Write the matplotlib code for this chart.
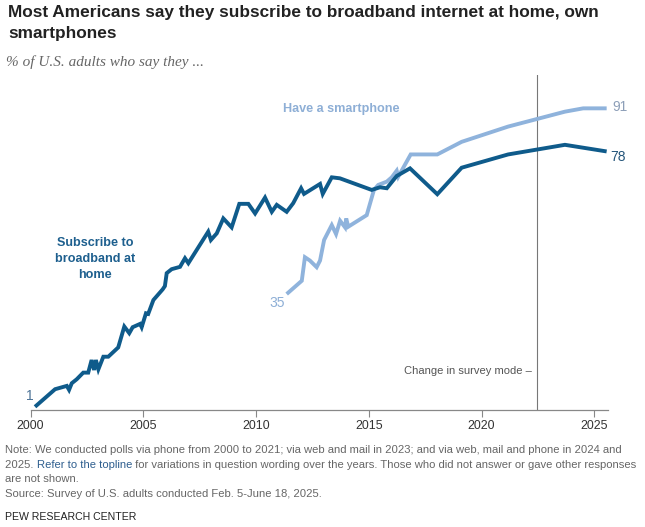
import matplotlib
matplotlib.use("Agg")
import matplotlib.pyplot as plt

# ---- data ----
broadband_years = [2000.20, 2001.09, 2001.61, 2001.71, 2001.83, 2002.05, 2002.34, 2002.56,
                   2002.71, 2002.82, 2002.90, 2003.01, 2003.23, 2003.45, 2003.89, 2004.16,
                   2004.38, 2004.53, 2004.86, 2004.93, 2005.12, 2005.22, 2005.45, 2005.86,
                   2005.96, 2006.04, 2006.26, 2006.63, 2006.85, 2007.00, 2007.88, 2008.00,
                   2008.26, 2008.55, 2008.92, 2009.26, 2009.66, 2009.96, 2010.40, 2010.70,
                   2010.92, 2011.36, 2011.65, 2012.00, 2012.13, 2012.84, 2012.96, 2013.36,
                   2013.72, 2015.13, 2015.50, 2015.80, 2016.24, 2016.83, 2018.04, 2019.12,
                   2021.18, 2023.70, 2025.55]
broadband_values = [1, 6.3, 7.3, 6.1, 8.1, 9.3, 11.3, 11.3,
                    15.1, 12.1, 15.1, 12.3, 16.1, 16.1, 18.9, 25.2,
                    23.2, 25.0, 26.0, 25.0, 29.2, 29.0, 33.2, 36.4,
                    37.4, 41.3, 42.5, 43.2, 45.8, 44.3, 53.8, 51.3,
                    53.3, 57.8, 55.1, 62.2, 62.2, 59.3, 64.1, 59.8,
                    61.9, 59.8, 62.4, 66.9, 65.2, 68.2, 65.2, 70.2,
                    69.9, 66.4, 67.2, 66.9, 70.6, 72.9, 65.1, 73.1,
                    77.1, 80.0, 78]

smartphone_years = [2011.36, 2012.03, 2012.17, 2012.39, 2012.69, 2012.84, 2013.02, 2013.36,
                    2013.55, 2013.73, 2013.95, 2014.00, 2014.09, 2014.91, 2015.23, 2015.42,
                    2015.80, 2016.02, 2016.24, 2016.31, 2016.86, 2018.04, 2019.12, 2021.18,
                    2023.70, 2024.51, 2025.55]
smartphone_values = [35, 39.0, 46.1, 45.1, 43.1, 45.1, 51.3, 55.8,
                     53.1, 57.1, 55.1, 57.8, 55.3, 58.8, 66.4, 67.9,
                     68.9, 70.2, 72.2, 70.4, 77.1, 77.1, 80.9, 85.5,
                     90.0, 91, 91]

year_ticks = [2000, 2005, 2010, 2015, 2020, 2025]
mode_change_year = 2022.47

title_line1 = "Most Americans say they subscribe to broadband internet at home, own"
title_line2 = "smartphones"
subtitle_text = "% of U.S. adults who say they ..."
note_line1 = "Note: We conducted polls via phone from 2000 to 2021; via web and mail in 2023; and via web, mail and phone in 2024 and"
note_line2a = "2025. "
note_line2b = "Refer to the topline"
note_line2c = " for variations in question wording over the years. Those who did not answer or gave other responses"
note_line3 = "are not shown."
source_text = "Source: Survey of U.S. adults conducted Feb. 5-June 18, 2025."
credit_text = "PEW RESEARCH CENTER"

# ---- style ----
DARK = "#0f5b8b"
LIGHT = "#8fb3dc"
GRAY = "#666666"
plt.rcParams['font.family'] = ['Liberation Sans', 'DejaVu Sans']

W, H = 645, 527
fig = plt.figure(figsize=(W / 100, H / 100), dpi=100)

x0_px, px_per_year = 30.5, 22.55
y0_px, px_per_pct = 410.1, 3.316
xmin, xmax = 2000, 2025.6
ymin, ymax = 0, 101
left = x0_px / W
width = (xmax - xmin) * px_per_year / W
bottom = 1 - y0_px / H
height = (ymax - ymin) * px_per_pct / H
ax = fig.add_axes([left, bottom, width, height])
ax.set_xlim(xmin, xmax)
ax.set_ylim(ymin, ymax)

ax.plot(broadband_years, broadband_values, color=DARK, lw=2.8, solid_joinstyle='miter',
        solid_capstyle='butt', zorder=3)
ax.plot(smartphone_years, smartphone_values, color=LIGHT, lw=2.8, solid_joinstyle='miter',
        solid_capstyle='butt', zorder=2)

ax.axvline(mode_change_year, color="#777777", lw=0.8, zorder=1)
ax.text(mode_change_year - 0.25, 11.9, "Change in survey mode \u2013", ha='right', va='center',
        fontsize=8.0, color="#555555")

for s in ['top', 'right', 'left']:
    ax.spines[s].set_visible(False)
ax.spines['bottom'].set_color("#888888")
ax.spines['bottom'].set_linewidth(0.9)
ax.set_yticks([])
ax.set_xticks(year_ticks)
ax.set_xticklabels([str(y) for y in year_ticks])
ax.tick_params(axis='x', length=5, width=0.8, color="#888888", labelsize=8.9,
               labelcolor="#333333", pad=2)

# series labels
ax.text(2002.86, 45.6, "Subscribe to\nbroadband at\nhome", ha='center', va='center',
        fontsize=9.1, fontweight='bold', color="#1d5f8e", linespacing=1.45)
ax.text(2013.8, 90.7, "Have a smartphone", ha='center', va='center',
        fontsize=9.1, fontweight='bold', color="#8eafd6")

ax.text(1999.95, 4.2, "1", ha='center', va='center', fontsize=10,
        color="#4d7397")
ax.text(smartphone_years[0] - 0.4, 32.2, "35", ha='center', va='center', fontsize=10,
        color="#8eafd6")
ax.text(smartphone_years[-1] + 0.25, 91.3, "91", ha='left', va='center', fontsize=10,
        color="#8d9fb8")
ax.text(broadband_years[-1] + 0.15, 76.4, "78", ha='left', va='center', fontsize=10,
        color="#24557a")

# header
fig.text(8 / W, 1 - 13 / H, title_line1, ha='left', va='center', fontsize=12.45,
         fontweight='bold', color="#222222")
fig.text(8 / W, 1 - 33.5 / H, title_line2, ha='left', va='center', fontsize=12.45,
         fontweight='bold', color="#222222")
fig.text(6 / W, 1 - 62.3 / H, subtitle_text, ha='left', va='center', fontsize=11,
         fontstyle='italic', family=['Liberation Serif', 'DejaVu Serif'], color=GRAY)

# footer
fs_note = 8.1
fig.text(5 / W, 1 - 450 / H, note_line1, ha='left', va='center', fontsize=fs_note, color=GRAY)
t2a = fig.text(5 / W, 1 - 464.5 / H, note_line2a, ha='left', va='center', fontsize=fs_note,
               color=GRAY)
fig.canvas.draw()
r = fig.canvas.get_renderer()
bb = t2a.get_window_extent(r)
t2b = fig.text(bb.x1 / W, 1 - 464.5 / H, note_line2b, ha='left', va='center',
               fontsize=fs_note, color="#2f5f8f")
bb2 = t2b.get_window_extent(r)
fig.text(bb2.x1 / W, 1 - 464.5 / H, note_line2c, ha='left', va='center', fontsize=fs_note,
         color=GRAY)
fig.text(5 / W, 1 - 479 / H, note_line3, ha='left', va='center', fontsize=fs_note, color=GRAY)
fig.text(5 / W, 1 - 494.3 / H, source_text, ha='left', va='center', fontsize=fs_note,
         color=GRAY)
fig.text(5 / W, 1 - 516.7 / H, credit_text, ha='left', va='center', fontsize=7.6,
         color="#222222")

fig.savefig("out.png", dpi=100)
